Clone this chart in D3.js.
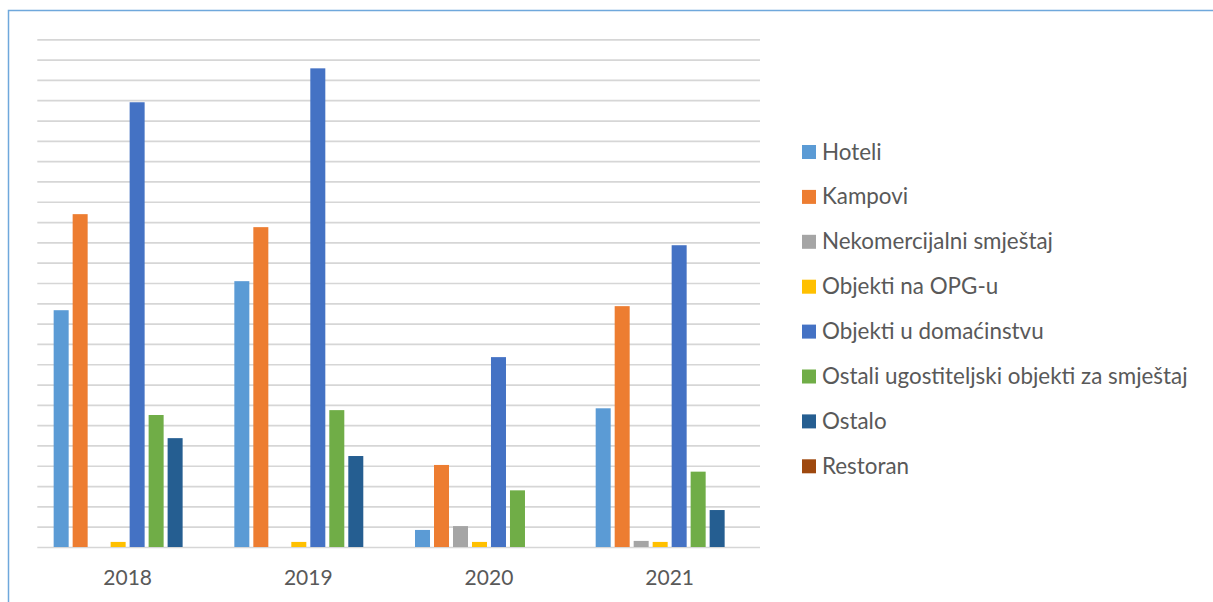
<!DOCTYPE html>
<meta charset="utf-8">
<style>
  body { margin: 0; background: #fff; }
  svg { display: block; font-family: Lato, "Open Sans", sans-serif; }
  .grid line { stroke: #d6d6d6; stroke-width: 1.7; }
  .grid path { display: none; }
  .xlab text { fill: #595959; font-size: 21px; }
  .legend text { fill: #595959; font-size: 22.4px; }
</style>
<body>
<div id="chart"></div>
<script src="https://cdnjs.cloudflare.com/ajax/libs/d3/7.8.5/d3.min.js"></script>
<script>

// Data (one unit = one gridline)
var years = ["2018", "2019", "2020", "2021"];
var seriesNames = ["Hoteli", "Kampovi", "Nekomercijalni smještaj", "Objekti na OPG-u",
  "Objekti u domaćinstvu", "Ostali ugostiteljski objekti za smještaj", "Ostalo", "Restoran"];
var hoteli      = [11.66, 13.09, 0.84, 6.83];
var kampovi     = [16.39, 15.75, 4.04, 11.86];
var nekomerc    = [0, 0, 1.03, 0.30];
var opg         = [0.25, 0.25, 0.25, 0.25];
var domacinstvo = [21.9, 23.57, 9.35, 14.86];
var ostaliUgost = [6.5, 6.74, 2.79, 3.71];
var ostalo      = [5.36, 4.48, 0, 1.82];
var restoran    = [0, 0, 0, 0];
var gridTicks = d3.range(0, 26);

var seriesValues = [hoteli, kampovi, nekomerc, opg, domacinstvo, ostaliUgost, ostalo, restoran];
var colors = ["#5B9BD5", "#ED7D31", "#A5A5A5", "#FFC000", "#4472C4", "#70AD47", "#255E91", "#9E480E"];

var W = 1213, H = 602;
var plot = {left: 37.3, right: 760, top: 39.3, bottom: 547};

var svg = d3.select("#chart").append("svg")
    .attr("width", W)
    .attr("height", H);

// outer frame (only top and left visible)
svg.append("rect")
    .attr("x", 8.5).attr("y", 10.5)
    .attr("width", 1400).attr("height", 800)
    .attr("fill", "none")
    .attr("stroke", "#6FA8DC")
    .attr("stroke-width", 1.5);

var y = d3.scaleLinear().domain([0, 25]).range([plot.bottom, plot.top]);

var x0 = d3.scaleBand().domain(years)
    .range([plot.left, plot.right])
    .paddingInner(0.159).paddingOuter(0.0795);

var x1 = d3.scaleBand().domain(seriesNames)
    .range([0, x0.bandwidth()])
    .paddingInner(0.21).paddingOuter(0.105);

svg.append("g")
    .attr("class", "grid")
    .attr("transform", "translate(" + plot.left + ",0)")
    .call(d3.axisLeft(y).tickValues(gridTicks).tickSize(-(plot.right - plot.left)).tickFormat(""));

var groups = svg.selectAll(".year")
    .data(years)
    .enter().append("g")
    .attr("class", "year")
    .attr("transform", function(d) { return "translate(" + x0(d) + ",0)"; });

groups.selectAll("rect")
    .data(function(d, i) {
      return seriesNames.map(function(s, j) { return {name: s, value: seriesValues[j][i], color: colors[j]}; });
    })
    .enter().append("rect")
    .filter(function(d) { return d.value > 0; })
    .attr("x", function(d) { return x1(d.name); })
    .attr("width", x1.bandwidth())
    .attr("y", function(d) { return y(d.value); })
    .attr("height", function(d) { return y(0) - y(d.value); })
    .attr("fill", function(d) { return d.color; });

svg.append("g")
    .attr("class", "xlab")
    .selectAll("text")
    .data(years)
    .enter().append("text")
    .attr("x", function(d) { return x0(d) + x0.bandwidth() / 2; })
    .attr("y", 585)
    .attr("text-anchor", "middle")
    .text(function(d) { return d; });

// legend
var legend = svg.append("g").attr("class", "legend")
    .selectAll("g")
    .data(seriesNames)
    .enter().append("g")
    .attr("transform", function(d, i) { return "translate(802," + (152 + i * 44.9) + ")"; });

legend.append("rect")
    .attr("x", 0).attr("y", -7)
    .attr("width", 14).attr("height", 14)
    .attr("fill", function(d, i) { return colors[i]; });

legend.append("text")
    .attr("x", 20)
    .attr("y", 7.5)
    .text(function(d) { return d; });

</script>
</body>
